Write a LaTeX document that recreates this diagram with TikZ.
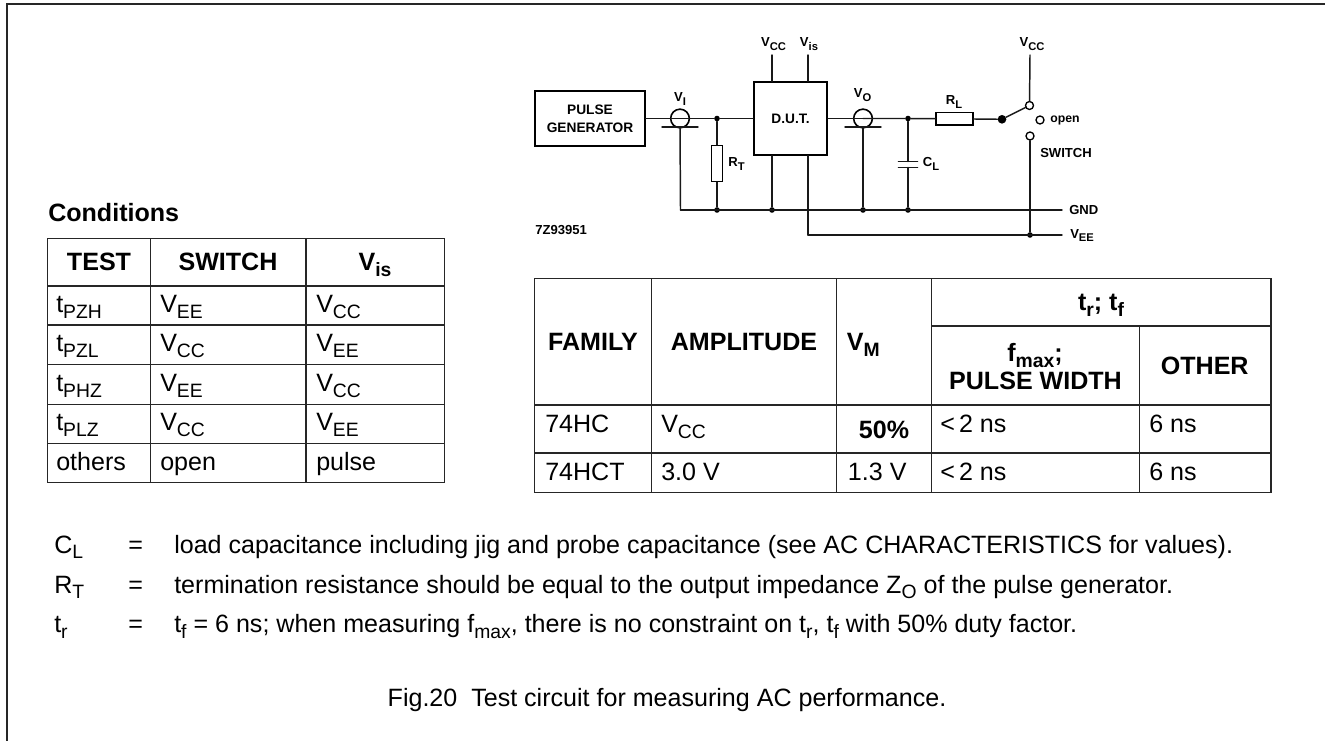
\documentclass[tikz,border=0pt]{standalone}
\usepackage{fontspec}
\setmainfont{Liberation Sans}
\usetikzlibrary{positioning}

\newcommand{\bodyfont}{\fontsize{18.8}{22}\selectfont}
\newcommand{\smallfont}{\fontsize{9.8}{13.8}\selectfont\bfseries}
\newcommand{\boxfont}{\fontsize{10.3}{13.8}\selectfont\bfseries}
\newcommand{\bsub}[1]{\raisebox{-4.2pt}{\fontsize{14.5}{14.5}\selectfont #1}}
\newcommand{\lsub}[1]{\raisebox{-2.6pt}{\fontsize{8.4}{8.4}\selectfont #1}}

\tikzset{
  wire/.style={line width=1.1pt,line cap=round,color=black!90},
  rule/.style={line width=1.15pt,color=black!85},
  cell/.style={anchor=base west,inner sep=0pt,font=\bodyfont},
  head/.style={anchor=base,inner sep=0pt,font=\bodyfont\bfseries},
  lab/.style={anchor=base,inner sep=0pt,font=\smallfont},
  dot/.style={circle,fill=black,inner sep=0pt,minimum size=4.2pt},
  ring/.style={circle,draw,line width=1pt,fill=white,inner sep=0pt,minimum size=6pt},
}

\begin{document}
\begin{tikzpicture}[x=0.75pt,y=0.75pt,yscale=-1,xscale=1]
\useasboundingbox (0,0) rectangle (1325,741);

        %Outer frame
        \draw [line width=1.4pt,color=black!85] (7,741) -- (7,4) -- (1325,4) ;

        %Circuit blocks
        \node (pulse) [draw,line width=1.2pt,minimum width=82.5pt,minimum height=41.25pt,inner sep=0pt,align=center,font=\boxfont] at (590,118.5) {PULSE\\GENERATOR};
        \node (dut) [draw,line width=1.4pt,minimum width=55pt,minimum height=54.5pt,inner sep=0pt,font=\boxfont] at (790.5,118.5) {D.U.T.};
        \node (rt) [draw,line width=1pt,minimum width=8.7pt,minimum height=27pt,inner sep=0pt] at (717,163.5) {};
        \node (rl) [draw,line width=1pt,minimum width=27.7pt,minimum height=9.2pt,inner sep=0pt] at (954.5,118.8) {};
        \node (vi) [circle,draw,line width=1.2pt,minimum size=14pt,inner sep=0pt] at (680,118.5) {};
        \node (vo) [circle,draw,line width=1.2pt,minimum size=14pt,inner sep=0pt] at (863,118.5) {};

        %Junctions
        \node (jtop) [dot] at (717,118.5) {};
        \node (jcap) [dot] at (908,118.5) {};
        \node (grt) [dot] at (717,210) {};
        \node (gdut) [dot] at (772,210) {};
        \node (gvo) [dot] at (863,210) {};
        \node (gcap) [dot] at (908,210) {};
        \node (jvee) [dot] at (1030,235) {};
        \node (pivot) [circle,fill=black,inner sep=0pt,minimum size=6.5pt] at (1002,119.3) {};
        \node (sup) [ring] at (1029.5,105.5) {};
        \node (sopen) [ring] at (1040,120) {};
        \node (sdown) [ring] at (1030,136) {};

        %Free ends
        \coordinate (vcctop) at (772,55);
        \coordinate (vistop) at (808,55);
        \coordinate (swtop) at (1030,55);
        \coordinate (gstart) at (680.5,210);
        \coordinate (gend) at (1062,210);
        \coordinate (vstart) at (808,235);
        \coordinate (vend) at (1062,235);
        \coordinate (barvil) at (662,127);
        \coordinate (barvir) at (698,127);
        \coordinate (barvol) at (845,127);
        \coordinate (barvor) at (881,127);
        \coordinate (capa) at (908,161.5);
        \coordinate (capb) at (908,167.5);

        %Wires
        \draw [wire] (pulse) -- (vi.center) ;
        \draw [wire] (vi.center) -- (jtop) -- (dut) ;
        \draw [wire] (dut) -- (vo.center) ;
        \draw [wire] (vo.center) -- (jcap) -- (rl) ;
        \draw [wire] (rl) -- (pivot) ;
        \draw [wire] (pivot) -- (sup) ;
        \draw [wire] (jtop) -- (rt) ;
        \draw [wire] (rt) -- (grt) ;
        \draw [wire] (barvil) -- (barvir) ;
        \draw [wire] (barvol) -- (barvor) ;
        \draw [wire] (barvil -| vi) -- (gstart) ;
        \draw [wire] (barvol -| vo) -- (gvo) ;
        \draw [wire] (gstart) -- (gend) ;
        \draw [wire] (vstart) -- (vend) ;
        \draw [wire] (vcctop) -- (vcctop |- dut.north) ;
        \draw [wire] (vistop) -- (vistop |- dut.north) ;
        \draw [wire] (gdut |- dut.south) -- (gdut) ;
        \draw [wire] (vstart |- dut.south) -- (vstart) ;
        \draw [wire] (swtop) -- (sup) ;
        \draw [wire] (sdown) -- (jvee) ;
        \draw [wire] (jcap) -- (capa) ;
        \draw [wire] (capb) -- (gcap) ;
        \draw [wire] ([xshift=-7.2pt]capa) -- ([xshift=7.2pt]capa) ;
        \draw [wire] ([xshift=-7.2pt]capb) -- ([xshift=7.2pt]capb) ;

        %Circuit labels
        \node (lvcc) [lab] at (773.5,46.7) {V\lsub{CC}};
        \node (lvis) [lab] at (809,46.7) {V\lsub{is}};
        \node (lvi) [lab] at (680,101.7) {V\lsub{I}};
        \node (lvo) [lab] at (862.5,97.7) {V\lsub{O}};
        \node (lrt) [lab] at (736.5,166.7) {R\lsub{T}};
        \node (lrl) [lab] at (954,105) {R\lsub{L}};
        \node (lcl) [lab] at (931,166.7) {C\lsub{L}};
        \node (lvcc2) [lab] at (1032,46.7) {V\lsub{CC}};
        \node (lopen) [lab,anchor=base west,font=\fontsize{9.2}{11}\selectfont\bfseries] at (1050,122.7) {open};
        \node (lsw) [lab,anchor=base west] at (1040,157.7) {SWITCH};
        \node (lgnd) [lab,anchor=base west] at (1069,215) {GND};
        \node (lvee) [lab,anchor=base west] at (1070,238.3) {V\lsub{EE}};
        \node (lcode) [lab,anchor=base west] at (535,234.3) {7Z93951};

        %Left table
        \node (lcond) [cell,font=\bodyfont\bfseries] at (48,221.7) {Conditions};
        \draw [rule] (47.3,238.3) rectangle (444.3,482.7) ;
        \draw [rule] (150.7,238.3) -- (150.7,482.7) ;
        \draw [rule] (306,238.3) -- (306,482.7) ;
        \draw [rule] (47.3,286) -- (444.3,286) ;
        \draw [rule] (47.3,325) -- (444.3,325) ;
        \draw [rule] (47.3,364.3) -- (444.3,364.3) ;
        \draw [rule] (47.3,404.3) -- (444.3,404.3) ;
        \draw [rule] (47.3,443.7) -- (444.3,443.7) ;

        \node (htest) [head] at (99,271) {TEST};
        \node (hswitch) [head] at (228,271) {SWITCH};
        \node (hvis) [head] at (375,271) {V\bsub{is}};
        \node (a1) [cell] at (56,312.7) {t\bsub{PZH}};
        \node (a2) [cell] at (160,312.7) {V\bsub{EE}};
        \node (a3) [cell] at (316,312.7) {V\bsub{CC}};
        \node (b1) [cell] at (56,351.7) {t\bsub{PZL}};
        \node (b2) [cell] at (160,351.7) {V\bsub{CC}};
        \node (b3) [cell] at (316,351.7) {V\bsub{EE}};
        \node (c1) [cell] at (56,391.7) {t\bsub{PHZ}};
        \node (c2) [cell] at (160,391.7) {V\bsub{EE}};
        \node (c3) [cell] at (316,391.7) {V\bsub{CC}};
        \node (d1) [cell] at (56,431) {t\bsub{PLZ}};
        \node (d2) [cell] at (160,431) {V\bsub{CC}};
        \node (d3) [cell] at (316,431) {V\bsub{EE}};
        \node (e1) [cell] at (56,471) {others};
        \node (e2) [cell] at (160,471) {open};
        \node (e3) [cell] at (316,471) {pulse};

        %Right table
        \draw [rule] (534.7,278.3) rectangle (1271,492.3) ;
        \draw [rule] (651.7,278.3) -- (651.7,492.3) ;
        \draw [rule] (836.7,278.3) -- (836.7,492.3) ;
        \draw [rule] (931.3,278.3) -- (931.3,492.3) ;
        \draw [rule] (1139.3,326) -- (1139.3,492.3) ;
        \draw [rule] (931.3,326) -- (1271,326) ;
        \draw [rule] (534.7,405) -- (1271,405) ;
        \draw [rule] (534.7,453) -- (1271,453) ;

        \node (hfam) [head] at (593,351) {FAMILY};
        \node (hamp) [head] at (744,351) {AMPLITUDE};
        \node (hvm) [head,anchor=base west] at (846.7,351) {V\bsub{M}};
        \node (htr) [head] at (1101,310.7) {t\bsub{r}; t\bsub{f}};
        \node (hfmax) [head] at (1035,361.7) {f\bsub{max};};
        \node (hpw) [head] at (1035.5,390) {PULSE WIDTH};
        \node (hoth) [head] at (1204.7,375) {OTHER};
        \node (f1) [cell] at (545,433) {74HC};
        \node (f2) [cell] at (661,433) {V\bsub{CC}};
        \node (f3) [head] at (884,438.3) {50\%};
        \node (f4) [cell] at (940,433) {<\,2 ns};
        \node (f5) [cell] at (1149,433) {6 ns};
        \node (g1) [cell] at (545,481) {74HCT};
        \node (g2) [cell] at (661,481) {3.0 V};
        \node (g3) [cell] at (847.7,481) {1.3 V};
        \node (g4) [cell] at (940,481) {<\,2 ns};
        \node (g5) [cell] at (1149,481) {6 ns};

        %Notes
        \node (ncl) [cell] at (54,553.3) {C\bsub{L}};
        \node (ecl) [cell] at (128,553.3) {=};
        \node (tcl) [cell] at (174,553.3) {load capacitance including jig and probe capacitance (see AC CHARACTERISTICS for values).};
        \node (nrt) [cell] at (54,593) {R\bsub{T}};
        \node (ert) [cell] at (128,593) {=};
        \node (trt) [cell] at (174,593) {termination resistance should be equal to the output impedance Z\bsub{O} of the pulse generator.};
        \node (ntr) [cell] at (54,632.7) {t\bsub{r}};
        \node (etr) [cell] at (128,632.7) {=};
        \node (ttr) [cell] at (174,632.7) {t\bsub{f} = 6 ns; when measuring f\bsub{max}, there is no constraint on t\bsub{r}, t\bsub{f} with 50\% duty factor.};
        \node (capt) [cell,anchor=base] at (667,706) {Fig.20\ \ Test circuit for measuring AC performance.};
\end{tikzpicture}
\end{document}
